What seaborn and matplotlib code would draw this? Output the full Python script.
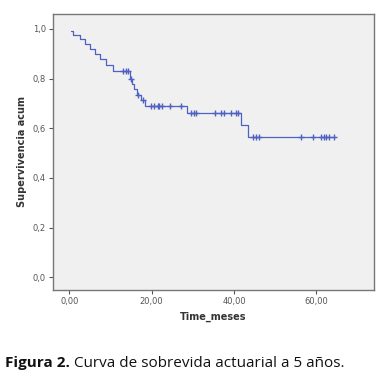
import numpy as np
import pandas as pd
import matplotlib.pyplot as plt
import seaborn as sns

# Kaplan-Meier step curve (time in months, cumulative survival after each step)
step_times = [0.5, 1.0, 2.5, 3.8, 5.0, 6.2, 7.5, 8.8, 10.6,
              14.7, 15.2, 15.8, 16.4, 17.5, 18.5,
              28.5, 41.8, 43.4, 64.6]
step_surv = [0.99, 0.975, 0.958, 0.94, 0.92, 0.90, 0.88, 0.855, 0.83,
             0.80, 0.78, 0.757, 0.735, 0.712, 0.69,
             0.66, 0.615, 0.566, 0.566]

# censored observations (months)
censor_times = [13.0, 13.7, 14.2, 15.0, 16.6, 17.8,
                19.9, 20.5, 21.5, 21.9, 22.5, 24.4, 27.2,
                29.6, 30.4, 30.8, 35.3, 36.9, 37.7, 39.3, 40.4, 41.0,
                44.6, 45.3, 46.1, 56.4, 59.2, 61.2, 61.8, 62.4, 63.2, 64.4]

x_ticks = [0, 20, 40, 60]
x_tick_labels = ["0,00", "20,00", "40,00", "60,00"]
y_ticks = [0.0, 0.2, 0.4, 0.6, 0.8, 1.0]
y_tick_labels = ["0,0", "0,2", "0,4", "0,6", "0,8", "1,0"]

curve = pd.DataFrame({"time": step_times, "surv": step_surv})
idx = np.searchsorted(step_times, censor_times, side="right") - 1
censored = pd.DataFrame({"time": censor_times,
                         "surv": np.array(step_surv)[idx]})

sns.set_style("white")
plt.rcParams["font.family"] = ["DejaVu Sans"]

line_color = "#4f62c2"

fig = plt.figure(figsize=(3.89, 3.88), dpi=100)
ax = fig.add_axes([0.136, 0.253, 0.825, 0.711])
ax.set_facecolor("#f0f0f0")

sns.lineplot(
    data=curve,
    x="time",
    y="surv",
    estimator=None,
    drawstyle="steps-post",
    color=line_color,
    linewidth=0.9,
    ax=ax
)

sns.scatterplot(
    data=censored,
    x="time",
    y="surv",
    marker="+",
    s=16,
    color=line_color,
    linewidth=1.0,
    ax=ax
)

ax.set_xlim(-4, 74)
ax.set_ylim(-0.05, 1.06)
ax.set_xticks(x_ticks)
ax.set_xticklabels(x_tick_labels)
ax.set_yticks(y_ticks)
ax.set_yticklabels(y_tick_labels)
ax.tick_params(axis="both", direction="out", length=3, width=0.8,
               color="#555555", labelsize=6, labelcolor="#555555", pad=2)
ax.tick_params(axis="both", left=True, bottom=True)

for side in ax.spines.values():
    side.set_color("#777777")
    side.set_linewidth(1.0)

ax.set_xlabel("Time_meses", fontsize=7, fontweight="bold", color="#333333", labelpad=4)
ax.set_ylabel("Supervivencia acum", fontsize=7, fontweight="bold", color="#333333", labelpad=4)

# caption: bold label followed by normal text
cap1 = fig.text(0.013, 0.055, "Figura 2.", fontsize=11, fontweight="bold",
                family="Open Sans", color="#111111")
fig.canvas.draw()
bb = cap1.get_window_extent().transformed(fig.transFigure.inverted())
fig.text(bb.x1 + 0.01, 0.055, "Curva de sobrevida actuarial a 5 años.", fontsize=11,
         family="Open Sans", color="#111111")

plt.savefig("out.png", dpi=100)
